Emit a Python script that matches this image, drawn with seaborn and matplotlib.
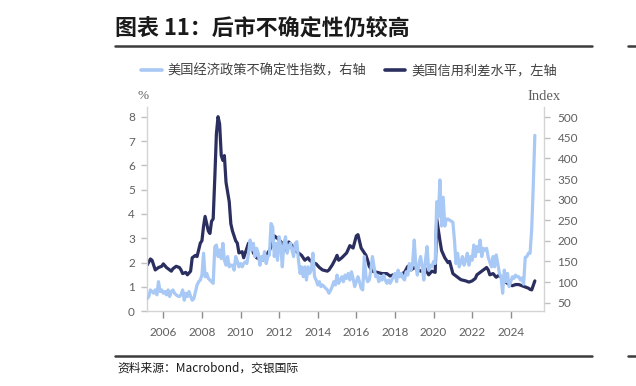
import matplotlib
matplotlib.use("Agg")
import matplotlib.pyplot as plt
import matplotlib.dates as mdates
from matplotlib.lines import Line2D
import pandas as pd
import seaborn as sns

# ---------------- data ----------------
title = "图表 11：后市不确定性仍较高"
source = "资料来源：Macrobond，交银国际"
label_epu = "美国经济政策不确定性指数，右轴"
label_spread = "美国信用利差水平，左轴"

# US economic policy uncertainty index (monthly, 2005-03 .. 2025-04), right axis
epu_2005 = [60, 65, 81, 77, 73, 81, 69, 101, 77, 81]
epu_2006 = [73, 77, 69, 81, 65, 77, 81, 73, 69, 66, 65, 69]
epu_2007 = [81, 56, 73, 65, 77, 65, 56, 60, 77, 93, 101, 105]
epu_2008 = [117, 170, 113, 121, 109, 105, 101, 97, 186, 190, 162, 178]
epu_2009 = [157, 194, 153, 141, 162, 137, 141, 141, 129, 162, 150, 137]
epu_2010 = [145, 137, 145, 149, 145, 170, 202, 178, 194, 162, 182, 170]
epu_2011 = [141, 162, 153, 174, 145, 162, 166, 242, 234, 162, 194, 153]
epu_2012 = [210, 186, 137, 194, 210, 170, 186, 194, 178, 162, 194, 198]
epu_2013 = [153, 121, 137, 113, 137, 105, 137, 121, 130, 170, 113, 105]
epu_2014 = [93, 101, 89, 93, 89, 85, 81, 73, 80, 89, 101, 93]
epu_2015 = [117, 97, 105, 113, 101, 117, 109, 121, 105, 125, 109, 89]
epu_2016 = [101, 113, 101, 85, 81, 162, 113, 101, 105, 129, 162, 137]
epu_2017 = [113, 117, 101, 113, 105, 117, 105, 97, 105, 97, 105, 113]
epu_2018 = [121, 101, 129, 113, 121, 110, 105, 125, 117, 145, 129, 145]
epu_2019 = [202, 137, 117, 145, 162, 137, 105, 153, 186, 129, 141, 137]
epu_2020 = [150, 145, 295, 259, 348, 236, 306, 236, 253, 253, 250, 248]
epu_2021 = [245, 200, 145, 170, 137, 149, 162, 141, 153, 170, 141, 162]
epu_2022 = [153, 190, 162, 186, 174, 202, 162, 182, 178, 182, 160, 149]
epu_2023 = [137, 162, 137, 166, 145, 121, 113, 73, 129, 101, 121, 89]
epu_2024 = [101, 113, 109, 117, 113, 113, 105, 110, 95, 160, 162, 170]
epu_2025 = [170, 230, 330, 456]
epu_start = "2005-03-01"

# US credit spread level (%), left axis
spread_dates = [
    "2005-03", "2005-05", "2005-06", "2005-08", "2005-10", "2005-12",
    "2006-01", "2006-03", "2006-05", "2006-06", "2006-07", "2006-09", "2006-11", "2006-12",
    "2007-01", "2007-03", "2007-04", "2007-06", "2007-07", "2007-09", "2007-10", "2007-12",
    "2008-01", "2008-02", "2008-03", "2008-05", "2008-06", "2008-07", "2008-08", "2008-09",
    "2008-10", "2008-11", "2008-12",
    "2009-01", "2009-02", "2009-03", "2009-04", "2009-06", "2009-07", "2009-08", "2009-10",
    "2009-11", "2009-12",
    "2010-02", "2010-03", "2010-05", "2010-06", "2010-08", "2010-09", "2010-11",
    "2011-03", "2011-05", "2011-07", "2011-09", "2011-10", "2011-12",
    "2012-03", "2012-04", "2012-05", "2012-07", "2012-09", "2012-11",
    "2013-01", "2013-03", "2013-05", "2013-07", "2013-08", "2013-10", "2013-12",
    "2014-02", "2014-04", "2014-07", "2014-08", "2014-10", "2014-12",
    "2015-01", "2015-02", "2015-04", "2015-07", "2015-09", "2015-11",
    "2016-01", "2016-02", "2016-04", "2016-06", "2016-07", "2016-08", "2016-09", "2016-11",
    "2017-02", "2017-05", "2017-08", "2017-10", "2017-12",
    "2018-02", "2018-04", "2018-07", "2018-09", "2018-11",
    "2019-01", "2019-05", "2019-08", "2019-10", "2019-12",
    "2020-02", "2020-03", "2020-05", "2020-06", "2020-08", "2020-10", "2020-11", "2020-12",
    "2021-01", "2021-03", "2021-06", "2021-09", "2021-11",
    "2022-01", "2022-03", "2022-04", "2022-06", "2022-08", "2022-10", "2022-11", "2022-12",
    "2023-02", "2023-04", "2023-06", "2023-08", "2023-10", "2023-12",
    "2024-02", "2024-04", "2024-06", "2024-08", "2024-10", "2024-12",
    "2025-01", "2025-02", "2025-03", "2025-04",
]
spread_values = [
    1.9, 2.15, 2.1, 1.7, 1.8, 1.85,
    1.95, 1.8, 1.7, 1.65, 1.75, 1.85, 1.8, 1.7,
    1.55, 1.6, 1.5, 1.65, 2.2, 2.3, 2.25, 2.8,
    2.9, 3.5, 3.9, 3.3, 3.2, 3.7, 3.8, 5.5,
    7.3, 8.0, 7.7,
    6.4, 6.2, 6.4, 5.3, 4.5, 3.6, 3.3, 2.9,
    2.8, 2.4,
    2.45, 2.2, 2.6, 2.8, 2.7, 2.4, 2.2,
    2.1, 2.3, 2.5, 2.8, 3.1, 3.0,
    2.8, 2.5, 2.6, 2.85, 2.7, 2.5,
    2.4, 2.3, 2.1, 2.2, 2.1, 2.0, 1.95,
    1.8, 1.7, 1.65, 1.7, 1.9, 2.15,
    2.3, 2.1, 2.2, 2.4, 2.7, 2.6,
    3.1, 3.15, 2.6, 2.4, 2.3, 2.1, 1.85, 1.65,
    1.6, 1.55, 1.55, 1.45, 1.5,
    1.4, 1.5, 1.6, 1.85, 1.7,
    1.8, 1.65, 1.75, 1.5, 1.65,
    1.6, 3.8, 2.9, 2.5, 2.2, 2.0, 2.05, 1.8,
    1.55, 1.45, 1.3, 1.25, 1.2,
    1.25, 1.35, 1.5, 1.6, 1.7, 1.8, 1.7, 1.5,
    1.55, 1.4, 1.5, 1.3, 1.2, 1.1,
    1.05, 1.1, 1.1, 1.05, 1.0, 0.95,
    0.9, 0.88, 1.05, 1.25,
]

left_ticks = [0, 1, 2, 3, 4, 5, 6, 7, 8]
right_ticks = [50, 100, 150, 200, 250, 300, 350, 400, 450, 500]
year_ticks = [2006, 2008, 2010, 2012, 2014, 2016, 2018, 2020, 2022, 2024]

# ---------------- frames ----------------
epu_values = (epu_2005 + epu_2006 + epu_2007 + epu_2008 + epu_2009 + epu_2010 + epu_2011
              + epu_2012 + epu_2013 + epu_2014 + epu_2015 + epu_2016 + epu_2017 + epu_2018
              + epu_2019 + epu_2020 + epu_2021 + epu_2022 + epu_2023 + epu_2024 + epu_2025)
df_epu = pd.DataFrame({
    "date": pd.date_range(epu_start, periods=len(epu_values), freq="MS"),
    "epu": epu_values,
})
df_spread = pd.DataFrame({
    "date": pd.to_datetime(spread_dates, format="%Y-%m"),
    "spread": spread_values,
})

# ---------------- style ----------------
sns.set_style("white")
plt.rcParams["font.family"] = ["Noto Sans CJK SC", "DejaVu Sans"]
CJK = ["Noto Sans CJK SC", "DejaVu Sans"]

dark = "#2b2f60"
light = "#a8c8f5"
tick_col = "#5f5f5f"
spine_col = "#d4d4d4"

W, H = 636, 386
fig = plt.figure(figsize=(W / 100, H / 100), dpi=100)
fig.patch.set_facecolor("white")

ax = fig.add_axes([146.7 / W, 1 - 311.3 / H, (544.3 - 146.7) / W, (311.3 - 106.7) / H])
sns.lineplot(data=df_spread, x="date", y="spread", ax=ax, color=dark, linewidth=2.3,
             label=label_spread, legend=False)
ax2 = ax.twinx()
sns.lineplot(data=df_epu, x="date", y="epu", ax=ax2, color=light, linewidth=2.3,
             label=label_epu, legend=False)

ax.set_xlim(pd.Timestamp("2005-02-20"), pd.Timestamp("2025-09-27"))
ax.set_ylim(0, 8.41)
ax2.set_ylim(29.1, 525.7)
ax.set_yticks(left_ticks)
ax2.set_yticks(right_ticks)
ax.set_xticks([pd.Timestamp(f"{y}-01-01") for y in year_ticks])
ax.xaxis.set_major_formatter(mdates.DateFormatter("%Y"))
ax.set_xlabel("")
ax.set_ylabel("")
ax2.set_ylabel("")

for a in (ax, ax2):
    a.spines["top"].set_visible(False)
    for s in ("left", "right", "bottom"):
        a.spines[s].set_color(spine_col)
        a.spines[s].set_linewidth(1.0)
ax.spines["right"].set_visible(False)
ax2.spines["left"].set_visible(False)
ax2.spines["bottom"].set_visible(False)

ax.tick_params(axis="x", direction="out", length=5, width=1, color="#8c8c8c", pad=6,
               labelsize=8.5, labelcolor=tick_col, bottom=True)
ax.tick_params(axis="y", direction="out", length=4.5, width=1, color="#bfbfbf", pad=4,
               labelsize=8.5, labelcolor=tick_col, left=True)
ax2.tick_params(axis="y", direction="out", length=4.5, width=1, color="#bfbfbf", pad=5,
                labelsize=8.5, labelcolor=tick_col, right=True)
for lab in ax.get_xticklabels() + ax.get_yticklabels() + ax2.get_yticklabels():
    lab.set_family("Lato")

# ---------------- texts ----------------
fig.text(115 / W, 1 - 28 / H, title, fontsize=15.8, fontweight="bold", color="#1a1a1a",
         ha="left", va="center", family=CJK)
fig.add_artist(Line2D([115 / W, 592 / W], [1 - 46 / H] * 2, color="#3c3c3c", lw=1.8))
fig.add_artist(Line2D([628 / W, 1.0], [1 - 46 / H] * 2, color="#3c3c3c", lw=1.8))
fig.add_artist(Line2D([115 / W, 592 / W], [1 - 356 / H] * 2, color="#3c3c3c", lw=1.8))
fig.add_artist(Line2D([628 / W, 1.0], [1 - 356 / H] * 2, color="#3c3c3c", lw=1.8))
fig.text(117 / W, 1 - 368 / H, source, fontsize=8.5, color="#1a1a1a", style="italic",
         ha="left", va="center", family=CJK)

fig.text(143 / W, 1 - 96 / H, "%", fontsize=9.5, color=tick_col, ha="center", va="center",
         family="Liberation Serif")
fig.text(561 / W, 1 - 96 / H, "Index", fontsize=10.5, color=tick_col, ha="right", va="center",
         family="Liberation Serif")

handles = [Line2D([], [], color=light, lw=2.6), Line2D([], [], color=dark, lw=2.6)]
leg = fig.legend(handles, [label_epu, label_spread], loc="center",
                 bbox_to_anchor=(349 / W, 1 - 71 / H), ncol=2, frameon=False,
                 fontsize=9.5, handlelength=1.55, handletextpad=0.45, columnspacing=1.4,
                 borderaxespad=0, borderpad=0)
for t in leg.get_texts():
    t.set_color("#404040")
    t.set_family(CJK)

fig.savefig("out.png", dpi=100, facecolor="white")
